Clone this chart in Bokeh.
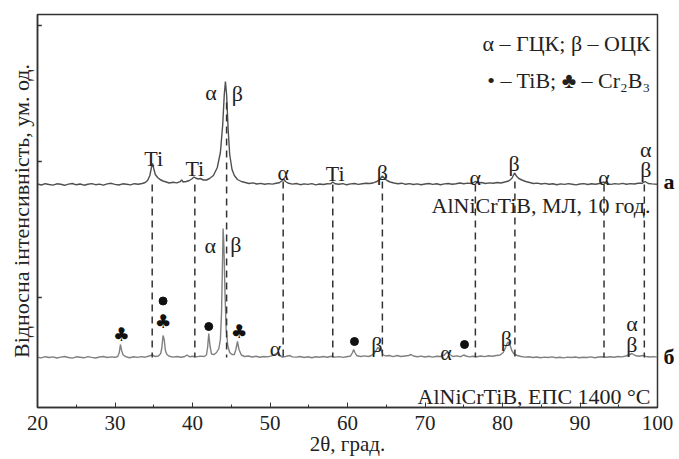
from bokeh.plotting import figure
from bokeh.models import SingleIntervalTicker, FixedTicker, Range1d, LinearAxis
from bokeh.core.properties import value
from bokeh.embed import file_html
from bokeh.resources import INLINE

# ---- pattern "а": AlNiCrTiB, МЛ, 10 год. (2θ, relative intensity) ----
pattern_a = [
    (20.0, 0.5), (20.5, -0.5), (21.0, 0.8), (21.5, 0.0), (22.0, -0.6), (22.5, 0.7),
    (23.0, 0.2), (23.5, -0.8), (24.0, 0.4), (24.5, 1.0), (25.0, -0.3), (25.5, 0.5),
    (26.0, -0.7), (26.5, 0.3), (27.0, 0.9), (27.5, -0.2), (28.0, 0.4), (28.5, -0.6),
    (29.0, 0.6), (29.5, 1.2), (30.0, 0.1), (30.5, -0.5), (31.0, 0.7), (31.5, 0.2),
    (32.0, -0.4), (32.5, 0.8), (33.0, 0.3), (33.5, 1.0), (33.9, 2.0), (34.2, 4.0),
    (34.5, 9.0), (34.7, 17.0), (34.85, 21.0), (35.0, 16.0), (35.2, 10.0), (35.5, 7.0),
    (35.8, 5.0), (36.2, 3.5), (36.6, 2.5), (37.0, 1.5), (37.5, 2.2), (38.0, 1.6),
    (38.4, 2.8), (38.6, 4.5), (38.8, 2.5), (39.2, 3.0), (39.6, 4.0), (39.9, 5.5),
    (40.2, 7.5), (40.4, 6.5), (40.7, 5.5), (41.0, 6.0), (41.4, 4.5), (41.8, 4.5),
    (42.2, 6.0), (42.7, 9.0), (43.2, 17.0), (43.6, 32.0), (43.9, 60.0), (44.1, 90.0),
    (44.25, 103.0), (44.4, 90.0), (44.6, 55.0), (44.8, 30.0), (45.1, 15.0), (45.4, 9.0),
    (45.8, 5.0), (46.3, 3.0), (46.8, 2.0), (47.3, 1.0), (47.8, 1.6), (48.3, 0.5),
    (48.8, 1.1), (49.3, 0.2), (49.8, 0.9), (50.3, 0.4), (50.8, 1.3), (51.2, 1.8),
    (51.5, 3.5), (51.75, 5.5), (52.0, 3.0), (52.4, 1.2), (52.9, 0.4), (53.4, 1.0),
    (53.9, -0.2), (54.4, 0.6), (54.9, 0.1), (55.4, 0.9), (55.9, -0.4), (56.4, 0.5),
    (56.9, 0.0), (57.4, 0.8), (57.8, 0.6), (58.1, 2.5), (58.4, 0.8), (58.9, 0.2),
    (59.4, 0.9), (59.9, -0.3), (60.4, 0.6), (60.9, 1.0), (61.4, 0.1), (61.9, 0.8),
    (62.4, 1.2), (62.9, 1.0), (63.4, 1.8), (63.8, 3.0), (64.2, 5.5), (64.5, 8.5),
    (64.8, 6.0), (65.1, 4.0), (65.5, 2.5), (66.0, 1.5), (66.5, 0.7), (67.0, 1.3),
    (67.5, 0.2), (68.0, 0.9), (68.5, 0.0), (69.0, 0.6), (69.5, -0.3), (70.0, 0.5),
    (70.5, 1.0), (71.0, 0.1), (71.5, 0.7), (72.0, -0.2), (72.5, 0.6), (73.0, 1.0),
    (73.5, 0.2), (74.0, 0.8), (74.5, 1.5), (75.0, 0.7), (75.5, 1.4), (76.0, 1.0),
    (76.5, 3.0), (76.9, 1.5), (77.3, 2.0), (77.8, 1.0), (78.3, 1.6), (78.8, 1.2),
    (79.3, 2.0), (79.8, 1.5), (80.3, 2.5), (80.8, 3.5), (81.2, 6.0), (81.55, 11.5),
    (81.8, 8.5), (82.1, 6.0), (82.5, 4.5), (83.0, 3.0), (83.5, 2.0), (84.0, 1.0),
    (84.5, 1.4), (85.0, 0.5), (85.5, 1.1), (86.0, 0.2), (86.5, 0.8), (87.0, -0.2),
    (87.5, 0.6), (88.0, 0.1), (88.5, 0.9), (89.0, 0.3), (89.5, -0.4), (90.0, 0.5),
    (90.5, 0.9), (91.0, 0.0), (91.5, 0.7), (92.0, 0.3), (92.5, 1.0), (93.1, 2.5),
    (93.5, 0.8), (94.0, 0.1), (94.5, 0.9), (95.0, 0.4), (95.5, 1.1), (96.0, 0.3),
    (96.5, 0.9), (97.0, 0.5), (97.5, 1.3), (98.0, 1.2), (98.4, 3.0), (98.8, 1.0),
    (99.3, 0.6), (100.0, 0.3),
]

# ---- pattern "б": AlNiCrTiB, ЕПС 1400 °C ----
pattern_b = [
    (20.0, 0.3), (20.5, -0.4), (21.0, 0.8), (21.5, 0.0), (22.0, 0.6), (22.5, -0.5),
    (23.0, 0.4), (23.5, 1.0), (24.0, 0.0), (24.5, -0.6), (25.0, 0.7), (25.5, 0.2),
    (26.0, -0.3), (26.5, 0.9), (27.0, 0.1), (27.5, -0.5), (28.0, 0.5), (28.5, 1.0),
    (29.0, 0.0), (29.5, 0.6), (30.0, 0.2), (30.35, 1.0), (30.55, 5.0), (30.7, 13.0),
    (30.85, 7.0), (31.05, 2.5), (31.4, 0.8), (31.9, -0.2), (32.4, 0.7), (32.9, 0.1),
    (33.4, 0.9), (33.9, 0.3), (34.4, 1.5), (34.8, 2.5), (35.2, 1.0), (35.6, 1.5),
    (35.9, 4.0), (36.05, 10.0), (36.2, 22.0), (36.35, 18.0), (36.5, 7.0), (36.7, 3.0),
    (37.0, 1.2), (37.5, 0.4), (38.0, 1.0), (38.5, 0.2), (39.0, 1.0), (39.3, 2.5),
    (39.6, 0.8), (40.0, 1.2), (40.5, 0.6), (41.0, 1.4), (41.5, 1.0), (41.8, 2.5),
    (41.95, 10.0), (42.1, 24.0), (42.25, 12.0), (42.45, 3.5), (42.8, 3.0), (43.1, 5.0),
    (43.4, 9.0), (43.6, 18.0), (43.75, 45.0), (43.87, 95.0), (43.95, 129.0), (44.05, 112.0),
    (44.2, 62.0), (44.35, 28.0), (44.55, 12.0), (44.8, 5.0), (45.1, 3.0), (45.4, 3.0),
    (45.6, 8.0), (45.8, 16.0), (46.0, 8.0), (46.3, 2.5), (46.7, 1.0), (47.2, 1.5),
    (47.7, 0.5), (48.2, 1.2), (48.7, 0.3), (49.2, 1.0), (49.7, 0.6), (50.2, 1.6),
    (50.6, 3.0), (50.9, 4.0), (51.2, 2.0), (51.6, 0.5), (52.0, 1.0), (52.5, 2.0),
    (52.9, 0.6), (53.4, 0.4), (53.9, 1.0), (54.4, 0.0), (54.9, 0.7), (55.4, -0.2),
    (55.9, 0.8), (56.4, 0.2), (56.9, 1.0), (57.4, 0.3), (57.9, 1.2), (58.4, 0.4),
    (58.9, 0.9), (59.4, 0.1), (59.9, 0.8), (60.4, 1.5), (60.65, 5.0), (60.8, 8.0),
    (60.95, 5.0), (61.2, 1.8), (61.7, 1.0), (62.2, 1.6), (62.7, 1.0), (63.1, 2.0),
    (63.5, 4.5), (63.8, 8.5), (63.95, 10.0), (64.15, 8.0), (64.3, 9.0), (64.55, 3.0),
    (64.9, 1.5), (65.4, 2.0), (65.9, 0.8), (66.4, 2.0), (66.9, 1.0), (67.4, 1.5),
    (67.9, 2.0), (68.2, 3.0), (68.5, 1.5), (69.0, 0.8), (69.5, 1.4), (70.0, 0.5),
    (70.5, 1.2), (71.0, 0.4), (71.5, 1.3), (72.0, 1.0), (72.5, 2.5), (72.85, 5.5),
    (73.2, 3.0), (73.6, 1.0), (74.1, 1.6), (74.6, 0.8), (75.0, 2.5), (75.3, 1.5),
    (75.7, 0.6), (76.2, 1.3), (76.7, 0.8), (77.2, 1.5), (77.7, 0.9), (78.2, 1.8),
    (78.7, 1.2), (79.2, 2.0), (79.7, 2.5), (80.1, 5.0), (80.4, 10.0), (80.6, 14.0),
    (80.75, 15.5), (80.95, 13.0), (81.2, 7.0), (81.5, 3.5), (81.9, 2.0), (82.4, 1.0),
    (82.9, 0.4), (83.4, 0.8), (83.9, 0.0), (84.4, 0.5), (84.9, -0.3), (85.4, 0.4),
    (85.9, 0.0), (86.4, 0.6), (86.9, -0.2), (87.4, 0.3), (87.9, -0.4), (88.4, 0.4),
    (88.9, 0.0), (89.4, 0.5), (89.9, -0.3), (90.4, 0.3), (90.9, 0.0), (91.4, 0.6),
    (91.9, -0.2), (92.4, 0.5), (92.9, 0.8), (93.4, 0.2), (93.9, 0.7), (94.4, 0.3),
    (94.9, 1.0), (95.4, 0.6), (95.9, 1.5), (96.3, 2.5), (96.7, 4.0), (97.1, 2.0),
    (97.6, 1.2), (98.1, 2.0), (98.5, 1.0), (99.0, 0.5), (99.5, 0.9), (100.0, 0.4),
]
offset_a = 223
offset_b = 50

# reference reflections (dashed lines)
ref_2theta = [34.8, 40.3, 44.4, 51.7, 58.1, 64.5, 76.5, 81.6, 93.1, 98.3]
ref_top = [223, 223, 305, 226, 223, 226, 223, 226, 223, 223]
ref_bottom = [50] * len(ref_2theta)

# phase labels, pattern а
lab_a_text = ["Ti", "Ti", "α", "β", "α", "Ti", "β", "α", "β", "α", "α", "β"]
lab_a_x = [35.0, 40.3, 42.4, 45.8, 51.7, 58.4, 64.5, 76.5, 81.5, 93.1, 98.5, 98.5]
lab_a_y = [249, 239, 315, 314, 235, 234, 235, 230, 244, 230, 258, 238]

# phase labels, pattern б
lab_b_text = ["α", "β", "α", "β", "α", "β", "α", "β"]
lab_b_x = [42.3, 45.6, 50.7, 63.8, 72.7, 80.5, 96.7, 96.7]
lab_b_y = [162, 163, 59, 63, 55, 69, 84, 63]
club_x = [30.8, 36.2, 46.0]
club_y = [74, 86.5, 77]
dot_x = [36.2, 42.1, 60.9, 75.1]
dot_y = [106.5, 81, 66, 63]

# y-axis tick marks (no labels) and pattern tags on the right
y_tick_pos = [110, 246, 382]
tag_pos = [226, 51]
tag_text = ["а", "б"]

captions = ["α – ГЦК; β – ОЦК", "• – TiB; ♣ – Cr₂B₃", "AlNiCrTiB, МЛ, 10 год.", "AlNiCrTiB, ЕПС 1400 °C"]
caption_y = [364, 327, 202, 11]

SERIF = "Liberation Serif"
INK = "#222222"
AX = "#333333"

p = figure(frame_width=620, frame_height=393, x_range=Range1d(20, 100), y_range=Range1d(0, 393),
           output_backend="svg", toolbar_location=None,
           min_border_left=37, min_border_right=20, min_border_top=14, min_border_bottom=48)
p.grid.visible = False
p.background_fill_color = "white"
p.border_fill_color = "white"
p.outline_line_color = AX
p.outline_line_width = 1.5

xa = p.xaxis[0]
xa.ticker = SingleIntervalTicker(interval=10, num_minor_ticks=2)
xa.major_tick_in = 5
xa.major_tick_out = 0
xa.minor_tick_in = 3
xa.minor_tick_out = 0
xa.axis_line_color = AX
xa.axis_line_width = 1.5
xa.major_tick_line_color = AX
xa.minor_tick_line_color = AX
xa.major_label_text_font = SERIF
xa.major_label_text_font_size = "21px"
xa.major_label_text_color = INK
xa.major_label_standoff = 8
xa.axis_label = "2θ, град."
xa.axis_label_text_font = SERIF
xa.axis_label_text_font_style = "normal"
xa.axis_label_text_font_size = "21px"
xa.axis_label_text_color = INK
xa.axis_label_standoff = -1

ya = p.yaxis[0]
ya.ticker = FixedTicker(ticks=[], minor_ticks=[])
ya.major_tick_out = 0
ya.axis_line_color = AX
ya.axis_line_width = 1.5
ya.major_label_standoff = 0
ya.axis_label = "Відносна інтенсивність, ум. од."
ya.axis_label_text_font = SERIF
ya.axis_label_text_font_style = "normal"
ya.axis_label_text_font_size = "22px"
ya.axis_label_text_color = INK
ya.axis_label_standoff = 4

ra = LinearAxis(ticker=FixedTicker(ticks=tag_pos, minor_ticks=[]),
                major_label_overrides={t: s for t, s in zip(tag_pos, tag_text)})
ra.axis_line_color = None
ra.major_tick_line_color = None
ra.minor_tick_line_color = None
ra.major_tick_in = 0
ra.major_tick_out = 0
ra.minor_tick_in = 0
ra.minor_tick_out = 0
ra.major_label_text_font = SERIF
ra.major_label_text_font_style = "bold"
ra.major_label_text_font_size = "22px"
ra.major_label_text_color = "#111111"
ra.major_label_standoff = 6
p.add_layout(ra, "right")

# inward y ticks
p.segment(x0=[20] * 3, x1=[20.55] * 3, y0=y_tick_pos, y1=y_tick_pos, line_color=AX, line_width=1.5)

# curves
ax_ = [t for t, _ in pattern_a]
ay_ = [v + offset_a for _, v in pattern_a]
bx_ = [t for t, _ in pattern_b]
by_ = [v + offset_b for _, v in pattern_b]
p.line(bx_, by_, line_color="#808080", line_width=1.4)
p.line(ax_, ay_, line_color="#505050", line_width=1.4)

# dashed reference lines
p.segment(x0=ref_2theta, y0=ref_top, x1=ref_2theta, y1=ref_bottom,
          line_color=AX, line_width=1.5, line_dash="7 5")

# labels
p.text(x=lab_a_x, y=lab_a_y, text=lab_a_text, text_font=value(SERIF), text_font_size="22px",
       text_align="center", text_baseline="alphabetic", text_color=INK)
p.text(x=lab_b_x, y=lab_b_y, text=lab_b_text, text_font=value(SERIF), text_font_size="22px",
       text_align="center", text_baseline="alphabetic", text_color=INK)
p.text(x=club_x, y=club_y, text=["♣"] * len(club_x), text_font=value("DejaVu Sans"),
       text_font_size="19px", text_align="center", text_baseline="middle", text_color="#111111")
p.scatter(x=dot_x, y=dot_y, size=8, marker="circle", fill_color="#111111", line_color="#111111")

# legend / captions
p.text(x=[99.1] * len(captions), y=caption_y, text=captions,
       text_font=value(SERIF), text_font_size="22px", text_align="right",
       text_baseline="alphabetic", text_color=INK)

open("out.html", "w").write(file_html(p, INLINE))
